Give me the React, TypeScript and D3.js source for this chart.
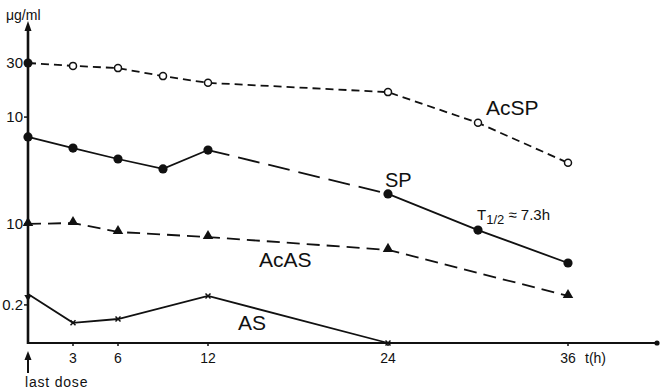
import React from "react";
import * as d3 from "d3";

// Values are read in relative plot units (0 = time axis, 100 = top of the y axis)
const acspHours = [0, 3, 6, 9, 12, 24, 30, 36];
const acspValues = [87.5, 86.6, 85.9, 83.4, 81.3, 78.4, 68.8, 56.3];
const spHours = [0, 3, 6, 9, 12, 24, 30, 36];
const spValues = [64.4, 60.9, 57.5, 54.4, 60.3, 46.6, 35.3, 25.0];
const acasHours = [0, 3, 6, 12, 24, 36];
const acasValues = [37.2, 37.5, 34.7, 33.1, 29.1, 14.7];
const asHours = [0, 3, 6, 12, 24];
const asValues = [15.3, 6.3, 7.5, 14.7, 0];
const xTicks = [3, 6, 12, 24, 36];
const xTickLabels = ["3", "6", "12", "24", "36"];
const yTickValues = [87.5, 70.6, 37.2, 11.9];
const yTickLabels = ["30", "10", "10", "0.2"];

const W = 661;
const H = 389;
const FONT = "'Liberation Sans', Arial, sans-serif";
const INK = "#111";

export default function App() {
  const x = d3.scaleLinear().domain([0, 36]).range([28, 568]);
  const y = d3.scaleLinear().domain([0, 100]).range([343, 23]);
  const line = d3
    .line<[number, number]>()
    .x((d) => x(d[0]))
    .y((d) => y(d[1]));

  const acsp = acspHours.map((h, i) => [h, acspValues[i]] as [number, number]);
  const sp = spHours.map((h, i) => [h, spValues[i]] as [number, number]);
  const acas = acasHours.map((h, i) => [h, acasValues[i]] as [number, number]);
  const as = asHours.map((h, i) => [h, asValues[i]] as [number, number]);

  const tri = d3.symbol(d3.symbolTriangle, 48)() as string;

  return (
    <svg
      width={W}
      height={H}
      style={{ position: "absolute", left: 0, top: 0, background: "#fff" }}
      fontFamily={FONT}
    >
      <rect width={W} height={H} fill="#fff" />
      {/* series lines */}
      <path d={line(acsp) as string} fill="none" stroke={INK} strokeWidth={1.8} strokeDasharray="8,5" />
      <path d={line(sp.slice(0, 5)) as string} fill="none" stroke={INK} strokeWidth={1.8} />
      <path d={line(sp.slice(4, 6)) as string} fill="none" stroke={INK} strokeWidth={1.8} strokeDasharray="22,9" />
      <path d={line(sp.slice(5)) as string} fill="none" stroke={INK} strokeWidth={1.8} />
      <path d={line(acas) as string} fill="none" stroke={INK} strokeWidth={1.8} strokeDasharray="13,7" />
      <path d={line(as) as string} fill="none" stroke={INK} strokeWidth={1.8} />

      {/* axes */}
      <line x1={x(0)} x2={657} y1={y(0)} y2={y(0)} stroke={INK} strokeWidth={2.2} />
      <circle cx={657} cy={y(0)} r={2.6} fill={INK} />
      <line x1={x(0)} x2={x(0)} y1={y(0) + 1} y2={y(100) + 6} stroke={INK} strokeWidth={2.6} />
      <path d={`M${x(0)},${y(100) - 2} L${x(0) - 3.5},${y(100) + 8} L${x(0) + 3.5},${y(100) + 8} Z`} fill={INK} />
      {xTicks.map((t, i) => (
        <g key={"xt" + i}>
          <line x1={x(t)} x2={x(t)} y1={y(0)} y2={y(0) + 3} stroke={INK} strokeWidth={1.5} />
          <text x={x(t)} y={y(0) + 20} fontSize={14} textAnchor="middle" fill={INK}>
            {xTickLabels[i]}
          </text>
        </g>
      ))}
      <text x={585} y={y(0) + 20} fontSize={14} fill={INK}>t(h)</text>
      {yTickValues.map((v, i) => (
        <g key={"yt" + i}>
          <line x1={x(0) - 4} x2={x(0)} y1={y(v)} y2={y(v)} stroke={INK} strokeWidth={1.5} />
          <text x={x(0) - 5} y={y(v) + 5} fontSize={15} textAnchor="end" fill={INK}>
            {yTickLabels[i]}
          </text>
        </g>
      ))}
      <text x={6} y={20} fontSize={14} fill={INK}>μg/ml</text>

      {/* last dose arrow */}
      <line x1={x(0)} x2={x(0)} y1={373} y2={357} stroke={INK} strokeWidth={2} />
      <path d={`M${x(0)},${351} L${x(0) - 3.5},${360} L${x(0) + 3.5},${360} Z`} fill={INK} />
      <text x={25} y={387} fontSize={14} letterSpacing={0.8} fill={INK}>last dose</text>

      {/* markers */}
      {acsp.map((d, i) =>
        i === 0 ? (
          <circle key={"a" + i} cx={x(d[0])} cy={y(d[1])} r={4.5} fill={INK} />
        ) : (
          <circle key={"a" + i} cx={x(d[0])} cy={y(d[1])} r={3.5} fill="#fff" stroke={INK} strokeWidth={1.5} />
        )
      )}
      {sp.map((d, i) => (
        <circle key={"s" + i} cx={x(d[0])} cy={y(d[1])} r={4.6} fill={INK} />
      ))}
      {acas.map((d, i) => (
        <path key={"t" + i} d={tri} transform={`translate(${x(d[0])},${y(d[1]) - 1})`} fill={INK} />
      ))}
      {as.map((d, i) =>
        i === 0 ? (
          <path key={"x" + i} d={tri} transform={`translate(${x(d[0])},${y(d[1]) + 3}) rotate(180) scale(0.7)`} fill={INK} />
        ) : (
          <path
            key={"x" + i}
            d={`M${x(d[0]) - 2.5},${y(d[1]) - 2.5}L${x(d[0]) + 2.5},${y(d[1]) + 2.5}M${x(d[0]) - 2.5},${y(d[1]) + 2.5}L${x(d[0]) + 2.5},${y(d[1]) - 2.5}`}
            stroke={INK}
            strokeWidth={1.5}
          />
        )
      )}

      {/* series labels */}
      <text x={486} y={115} fontSize={21} fill={INK}>AcSP</text>
      <text x={385} y={187} fontSize={20} fill={INK}>SP</text>
      <text x={259} y={267} fontSize={21} fill={INK}>AcAS</text>
      <text x={238} y={330} fontSize={21} fill={INK}>AS</text>
      <text x={477} y={220} fontSize={15} fill={INK}>
        T<tspan fontSize={13} dy={4}>1/2</tspan>
        <tspan dy={-4}> ≈ 7.3h</tspan>
      </text>
    </svg>
  );
}
